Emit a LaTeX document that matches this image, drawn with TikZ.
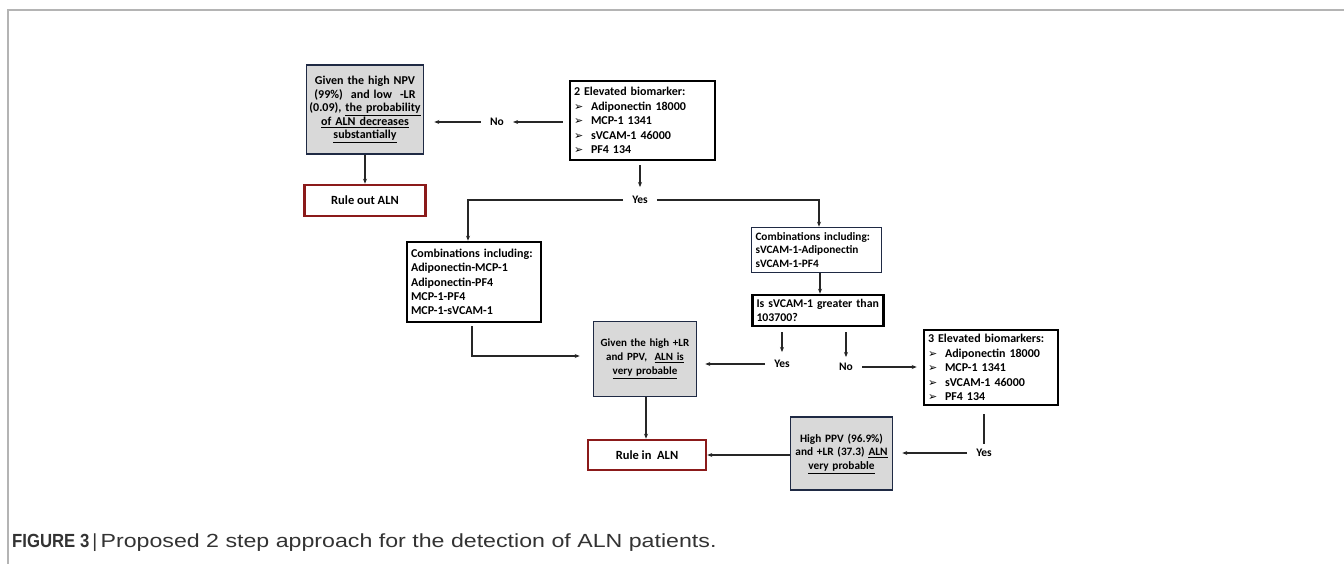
\documentclass[tikz,border=0pt]{standalone}
\usepackage{fontspec}
\setmainfont{Carlito}
\newfontfamily\dejavu{DejaVu Sans}
\newfontfamily\capfont{Liberation Sans}
\usetikzlibrary{arrows.meta}
\definecolor{navy}{HTML}{1F2A44}
\definecolor{darkred}{HTML}{8B1A1A}
\definecolor{boxgray}{HTML}{D9D9D9}
\definecolor{framegray}{HTML}{B4B4B4}
\definecolor{captext}{HTML}{333333}
\newcommand{\bul}{\makebox[17pt][l]{\dejavu\fontsize{11}{10}\selectfont ➢}}
\begin{document}
\begin{tikzpicture}[x=1pt,y=-1pt,
 base/.style={font=\bfseries\fontsize{12}{14.3}\selectfont, inner sep=0pt, anchor=center},
 blackbox/.style={base, draw=black, line width=2.6pt, fill=white, align=left, inner xsep=4pt},
 navybox/.style={base, draw=navy, line width=1.6pt, fill=white, align=left, inner xsep=4pt},
 graybox/.style={base, draw=navy, line width=1.6pt, fill=boxgray, align=center},
 redbox/.style={base, draw=darkred, line width=2.6pt, fill=white, align=center, font=\bfseries\fontsize{12.5}{14}\selectfont},
 lbl/.style={base, font=\bfseries\fontsize{11.5}{13}\selectfont, inner xsep=9pt, inner ysep=3pt},
 arr/.style={-{Stealth[length=5pt,width=4pt]}, line width=1.1pt, draw=black!85},
 ln/.style={line width=1.1pt, draw=black!85}]
\useasboundingbox (0,0) rectangle (1344,564);
% frame
\draw[framegray, line width=1.2pt] (8,564) -- (8,10) -- (1344,10);

% boxes
\node[graybox, minimum width=117pt, minimum height=89pt, text width=114pt, font=\bfseries\fontsize{12}{13.6}\selectfont] (npv) at (365,109.5)
 {Given the high NPV\\(99\%)~ and low~ -LR\\(0.09), \underline{the probability}\\\underline{of ALN decreases}\\\underline{substantially}};
\node[redbox, minimum width=121pt, minimum height=31pt] (ruleout) at (365,200.5) {Rule out ALN};
\node[blackbox, minimum width=145pt, minimum height=79pt, text width=137pt, font=\bfseries\fontsize{12}{14.5}\selectfont] (elev2) at (642.5,120.5)
 {2 Elevated biomarker:\\\bul Adiponectin 18000\\\bul MCP-1 1341\\\bul sVCAM-1 46000\\\bul PF4 134};
\node[blackbox, minimum width=134pt, minimum height=80pt, text width=126pt] (comb1) at (474,282)
 {Combinations including:\\Adiponectin-MCP-1\\Adiponectin-PF4\\MCP-1-PF4\\MCP-1-sVCAM-1};
\node[navybox, minimum width=130pt, minimum height=45pt, text width=122pt, font=\bfseries\fontsize{11.3}{13.5}\selectfont] (comb2) at (816.5,250)
 {Combinations including:\\sVCAM-1-Adiponectin\\sVCAM-1-PF4};
\node[blackbox, minimum width=131pt, minimum height=31pt, text width=123pt, font=\bfseries\fontsize{11.8}{14}\selectfont] (issv) at (818,310.5)
 {Is sVCAM-1 greater than\\103700?};
\node[graybox, minimum width=103pt, minimum height=75pt, text width=100pt, font=\bfseries\fontsize{11}{14}\selectfont] (plr) at (645,359)
 {Given the high +LR\\and PPV,~ \underline{ALN is}\\\underline{very probable}};
\node[blackbox, minimum width=134pt, minimum height=75pt, text width=126pt, font=\bfseries\fontsize{12}{14.5}\selectfont] (elev3) at (991,367.5)
 {3 Elevated biomarkers:\\\bul Adiponectin 18000\\\bul MCP-1 1341\\\bul sVCAM-1 46000\\\bul PF4 134};
\node[graybox, minimum width=102pt, minimum height=73pt, text width=100pt, font=\bfseries\fontsize{11.3}{13.8}\selectfont] (ppv) at (841.5,453.5)
 {High PPV (96.9\%)\\and +LR (37.3) \underline{ALN}\\\underline{very probable}};
\node[redbox, minimum width=118pt, minimum height=30pt] (rulein) at (647,455) {Rule in~ ALN};

% labels
\node[lbl] (no1) at (497,122) {No};
\node[lbl] (yes1) at (640,200) {Yes};
\node[lbl] (yes2) at (782,364) {Yes};
\node[lbl] (no2) at (846,367) {No};
\node[lbl] (yes3) at (984,453) {Yes};

% connectors
\draw[arr, shorten <=6pt] (elev2.west |- no1) -- (no1.east);
\draw[arr, shorten >=10pt] (no1.west) -- (npv.east |- no1);
\draw[arr] (npv.south) -- (ruleout.north);
\draw[arr, shorten <=4pt, shorten >=6pt] (elev2.south -| yes1) -- (yes1.north);
\draw[arr] (yes1.west) -| ([xshift=-6pt]comb1.north);
\draw[arr] (yes1.east) -| ([xshift=2.5pt]comb2.north);
\draw[arr] ([xshift=3.5pt]comb2.south) -- ([xshift=2pt]issv.north);
\draw[arr, shorten <=5pt, shorten >=5pt] (issv.south -| yes2) -- (yes2.north);
\draw[arr, shorten <=5pt, shorten >=3pt] (issv.south -| no2) -- (no2.north);
\draw[arr, shorten >=8pt] (yes2.west) -- (plr.east |- yes2);
\draw[arr, shorten >=6pt] (no2.east) -- (elev3.west |- no2);
\draw[arr, shorten <=3pt, shorten >=13pt] ([xshift=-2pt]comb1.south) |- ([yshift=3pt]plr.west);
\draw[arr] ([xshift=1pt]plr.south) -- ([xshift=-1pt]rulein.north);
\draw[ln, shorten <=8pt, shorten >=2pt] (elev3.south -| yes3) -- (yes3.north);
\draw[arr, shorten >=9pt] (yes3.west) -- (ppv.east |- yes3);
\draw[arr] (ppv.west |- rulein) -- (rulein.east);

% caption
\node[anchor=west, inner sep=0pt, text=captext, font=\capfont\fontsize{19}{21}\selectfont] (cap) at (12,543)
 {\scalebox{0.88}[1]{\textbf{FIGURE 3}}\,|\,\scalebox{1.22}[1]{Proposed 2 step approach for the detection of ALN patients.}};
\end{tikzpicture}
\end{document}
